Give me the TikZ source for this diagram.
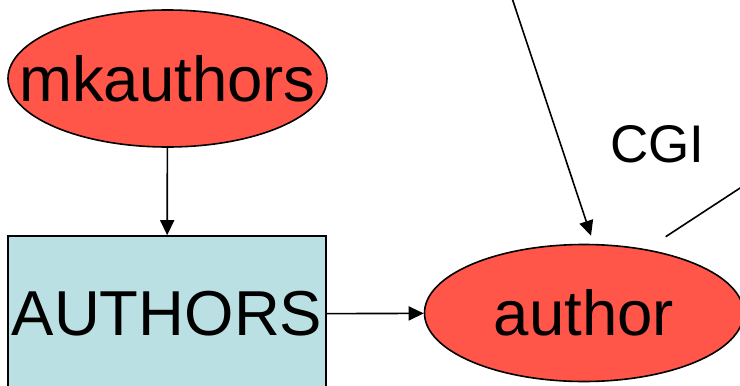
\documentclass[tikz,border=0pt]{standalone}
\usepackage{fontspec}
\setmainfont{Liberation Sans}
\usetikzlibrary{arrows.meta,shapes.geometric}
\definecolor{procred}{RGB}{255,86,73}
\definecolor{fileblue}{RGB}{186,224,228}
\begin{document}
\begin{tikzpicture}[x=1pt,y=-1pt,
 redell/.style={ellipse, draw=black, line width=1.6pt, fill=procred, minimum width=319pt, minimum height=137pt, inner sep=0pt},
 filebox/.style={rectangle, draw=black, line width=1.6pt, fill=fileblue, minimum width=318pt, minimum height=156pt, inner sep=0pt, font=\fontsize{63.5}{63.5}\selectfont},
 bigtext/.style={font=\fontsize{63.5}{63.5}\selectfont, inner sep=0pt},
 arr/.style={-{Triangle[length=15pt,width=14pt]}, line width=1.6pt},
 plainline/.style={line width=1.6pt}]
\useasboundingbox (0,0) rectangle (740,386);
\clip (0,0) rectangle (740,386);
\node[redell, label={[bigtext]center:mkauthors}] (mk) at (167.5,78.5) {};
\node[filebox] (AU) at (167,314) {AUTHORS};
\node[redell, label={[bigtext]center:author}] (au) at (584,313) {};
\node[font=\fontsize{53}{53}\selectfont, inner sep=0pt] (cgi) at (657.5,144) {CGI};
\coordinate (topsrc) at (512,-2);
\coordinate (rsrc) at (760,175);
\coordinate (rend) at (665.7,236.7);
\draw[arr] (mk) -- (AU);
\draw[arr] (AU) -- (au);
\draw[arr] (topsrc) -- ([shift={(7,-8)}]au.north);
\draw[plainline] (rsrc) -- (rend);
\end{tikzpicture}
\end{document}
